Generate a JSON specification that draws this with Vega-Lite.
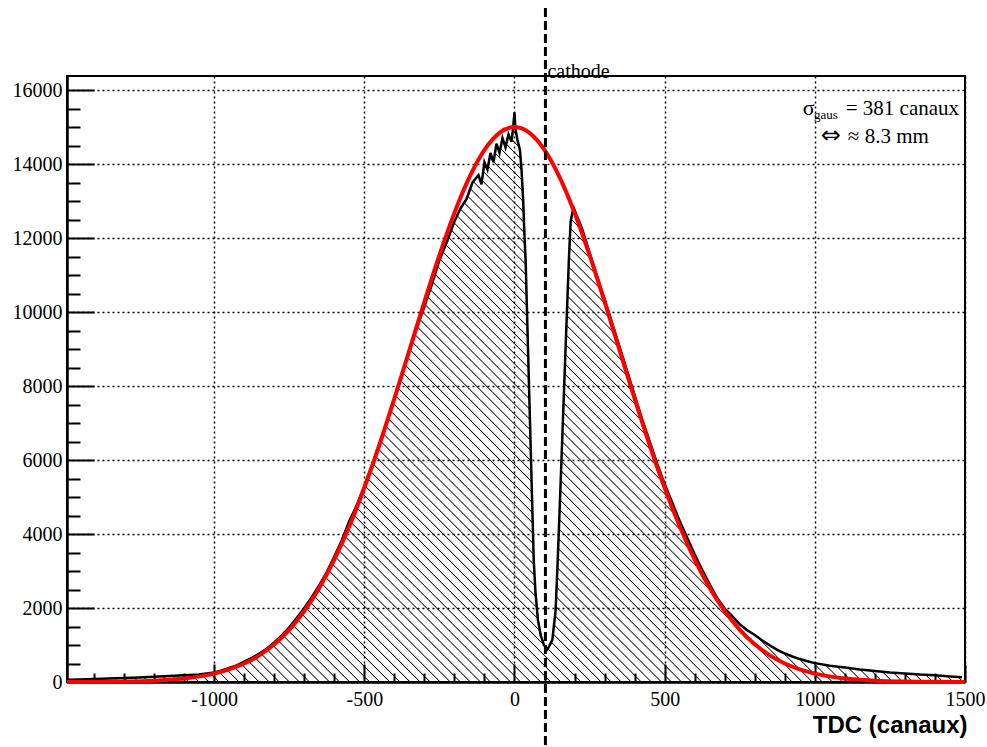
{
"$schema": "https://vega.github.io/schema/vega-lite/v6.json",
"width": 898, "height": 606,
"autosize": {"type": "none"},
"padding": {"left": 67, "top": 76, "right": 22, "bottom": 65},
"background": "white",
"config": {"view": {"stroke": "black", "strokeWidth": 2}, "font": "Liberation Serif"},
"datasets": {
"hist": [
{"x":-1490,"y":60},{"x":-1450,"y":70},{"x":-1400,"y":80},{"x":-1350,"y":95},{"x":-1300,"y":105},{"x":-1250,"y":120},{"x":-1200,"y":140},{"x":-1150,"y":160},{"x":-1100,"y":180},{"x":-1050,"y":205},{"x":-1000,"y":260},{"x":-975,"y":310},{"x":-950,"y":380},{"x":-925,"y":450},{"x":-900,"y":550},{"x":-875,"y":650},{"x":-850,"y":770},{"x":-825,"y":900},{"x":-800,"y":1070},{"x":-775,"y":1260},{"x":-750,"y":1480},{"x":-725,"y":1730},{"x":-700,"y":2000},{"x":-675,"y":2290},{"x":-650,"y":2620},{"x":-625,"y":2970},{"x":-600,"y":3390},{"x":-575,"y":3830},{"x":-550,"y":4350},{"x":-525,"y":4780},{"x":-500,"y":5300},{"x":-475,"y":5850},{"x":-450,"y":6430},{"x":-425,"y":7040},{"x":-400,"y":7650},{"x":-375,"y":8300},{"x":-350,"y":8950},{"x":-325,"y":9580},{"x":-300,"y":10150},{"x":-275,"y":10750},{"x":-250,"y":11400},{"x":-225,"y":11900},{"x":-200,"y":12450},{"x":-180,"y":12800},{"x":-160,"y":13050},{"x":-140,"y":13500},{"x":-120,"y":13700},{"x":-110,"y":13450},{"x":-100,"y":14050},{"x":-90,"y":13850},{"x":-80,"y":14300},{"x":-70,"y":14050},{"x":-60,"y":14550},{"x":-50,"y":14300},{"x":-40,"y":14700},{"x":-30,"y":14450},{"x":-20,"y":14800},{"x":-10,"y":14600},{"x":-5,"y":14950},{"x":0,"y":15400},{"x":3,"y":14950},{"x":10,"y":14650},{"x":18,"y":14380},{"x":23,"y":13900},{"x":29,"y":13000},{"x":33,"y":12100},{"x":37,"y":11400},{"x":45,"y":9000},{"x":55,"y":6000},{"x":64,"y":3300},{"x":70,"y":2400},{"x":78,"y":1680},{"x":87,"y":1270},{"x":98,"y":1000},{"x":109,"y":880},{"x":114,"y":940},{"x":126,"y":1140},{"x":137,"y":1950},{"x":144,"y":3300},{"x":150,"y":4600},{"x":160,"y":6800},{"x":170,"y":9000},{"x":181,"y":11400},{"x":187,"y":12450},{"x":193,"y":12700},{"x":198,"y":12800},{"x":205,"y":12650},{"x":225,"y":12250},{"x":250,"y":11600},{"x":275,"y":10950},{"x":300,"y":10350},{"x":325,"y":9700},{"x":350,"y":9050},{"x":375,"y":8400},{"x":400,"y":7750},{"x":425,"y":7100},{"x":450,"y":6500},{"x":475,"y":5900},{"x":500,"y":5350},{"x":525,"y":4850},{"x":550,"y":4350},{"x":575,"y":3900},{"x":600,"y":3450},{"x":625,"y":3030},{"x":650,"y":2640},{"x":675,"y":2270},{"x":700,"y":1980},{"x":725,"y":1780},{"x":750,"y":1560},{"x":775,"y":1400},{"x":800,"y":1270},{"x":825,"y":1120},{"x":850,"y":990},{"x":875,"y":870},{"x":900,"y":770},{"x":925,"y":690},{"x":950,"y":620},{"x":975,"y":560},{"x":1000,"y":510},{"x":1050,"y":440},{"x":1100,"y":390},{"x":1150,"y":340},{"x":1200,"y":300},{"x":1250,"y":260},{"x":1300,"y":230},{"x":1350,"y":200},{"x":1400,"y":180},{"x":1450,"y":150},{"x":1490,"y":130}
],
"fit": [
{"x":-1490,"y":1},{"x":-1400,"y":4},{"x":-1300,"y":12},{"x":-1200,"y":35},{"x":-1100,"y":93},{"x":-1000,"y":225},{"x":-950,"y":339},{"x":-900,"y":499},{"x":-850,"y":721},{"x":-800,"y":1019},{"x":-750,"y":1411},{"x":-700,"y":1915},{"x":-650,"y":2543},{"x":-600,"y":3306},{"x":-550,"y":4209},{"x":-500,"y":5249},{"x":-450,"y":6406},{"x":-400,"y":7659},{"x":-350,"y":8966},{"x":-300,"y":10278},{"x":-250,"y":11537},{"x":-200,"y":12681},{"x":-150,"y":13647},{"x":-100,"y":14384},{"x":-50,"y":14844},{"x":0,"y":15000},{"x":50,"y":14844},{"x":100,"y":14384},{"x":150,"y":13647},{"x":200,"y":12681},{"x":250,"y":11537},{"x":300,"y":10278},{"x":350,"y":8966},{"x":400,"y":7659},{"x":450,"y":6406},{"x":500,"y":5249},{"x":550,"y":4209},{"x":600,"y":3306},{"x":650,"y":2543},{"x":700,"y":1915},{"x":750,"y":1411},{"x":800,"y":1019},{"x":850,"y":721},{"x":900,"y":499},{"x":950,"y":339},{"x":1000,"y":225},{"x":1100,"y":93},{"x":1200,"y":35},{"x":1300,"y":12},{"x":1400,"y":4},{"x":1500,"y":1}
]
},
"layer": [
{
"data": {"name": "hist"},
"mark": {"type": "area", "interpolate": "linear", "opacity": 1,
"fill": {"gradient": "linear", "x1": 0, "y1": 1, "x2": 1, "y2": 0.364, "stops": [
{"offset":0,"color":"transparent"},{"offset":0.0009,"color":"#000"},{"offset":0.0018,"color":"transparent"},
{"offset":0.008,"color":"transparent"},{"offset":0.0089,"color":"#000"},{"offset":0.0098,"color":"transparent"},
{"offset":0.016,"color":"transparent"},{"offset":0.0169,"color":"#000"},{"offset":0.0178,"color":"transparent"},
{"offset":0.024,"color":"transparent"},{"offset":0.0249,"color":"#000"},{"offset":0.0258,"color":"transparent"},
{"offset":0.032,"color":"transparent"},{"offset":0.0329,"color":"#000"},{"offset":0.0338,"color":"transparent"},
{"offset":0.04,"color":"transparent"},{"offset":0.0409,"color":"#000"},{"offset":0.0418,"color":"transparent"},
{"offset":0.048,"color":"transparent"},{"offset":0.0489,"color":"#000"},{"offset":0.0498,"color":"transparent"},
{"offset":0.056,"color":"transparent"},{"offset":0.0569,"color":"#000"},{"offset":0.0578,"color":"transparent"},
{"offset":0.064,"color":"transparent"},{"offset":0.0649,"color":"#000"},{"offset":0.0658,"color":"transparent"},
{"offset":0.072,"color":"transparent"},{"offset":0.0729,"color":"#000"},{"offset":0.0738,"color":"transparent"},
{"offset":0.08,"color":"transparent"},{"offset":0.0809,"color":"#000"},{"offset":0.0818,"color":"transparent"},
{"offset":0.088,"color":"transparent"},{"offset":0.0889,"color":"#000"},{"offset":0.0898,"color":"transparent"},
{"offset":0.096,"color":"transparent"},{"offset":0.0969,"color":"#000"},{"offset":0.0978,"color":"transparent"},
{"offset":0.104,"color":"transparent"},{"offset":0.1049,"color":"#000"},{"offset":0.1058,"color":"transparent"},
{"offset":0.112,"color":"transparent"},{"offset":0.1129,"color":"#000"},{"offset":0.1138,"color":"transparent"},
{"offset":0.12,"color":"transparent"},{"offset":0.1209,"color":"#000"},{"offset":0.1218,"color":"transparent"},
{"offset":0.128,"color":"transparent"},{"offset":0.1289,"color":"#000"},{"offset":0.1298,"color":"transparent"},
{"offset":0.136,"color":"transparent"},{"offset":0.1369,"color":"#000"},{"offset":0.1378,"color":"transparent"},
{"offset":0.144,"color":"transparent"},{"offset":0.1449,"color":"#000"},{"offset":0.1458,"color":"transparent"},
{"offset":0.152,"color":"transparent"},{"offset":0.1529,"color":"#000"},{"offset":0.1538,"color":"transparent"},
{"offset":0.16,"color":"transparent"},{"offset":0.1609,"color":"#000"},{"offset":0.1618,"color":"transparent"},
{"offset":0.168,"color":"transparent"},{"offset":0.1689,"color":"#000"},{"offset":0.1698,"color":"transparent"},
{"offset":0.176,"color":"transparent"},{"offset":0.1769,"color":"#000"},{"offset":0.1778,"color":"transparent"},
{"offset":0.184,"color":"transparent"},{"offset":0.1849,"color":"#000"},{"offset":0.1858,"color":"transparent"},
{"offset":0.192,"color":"transparent"},{"offset":0.1929,"color":"#000"},{"offset":0.1938,"color":"transparent"},
{"offset":0.2,"color":"transparent"},{"offset":0.2009,"color":"#000"},{"offset":0.2018,"color":"transparent"},
{"offset":0.208,"color":"transparent"},{"offset":0.2089,"color":"#000"},{"offset":0.2098,"color":"transparent"},
{"offset":0.216,"color":"transparent"},{"offset":0.2169,"color":"#000"},{"offset":0.2178,"color":"transparent"},
{"offset":0.224,"color":"transparent"},{"offset":0.2249,"color":"#000"},{"offset":0.2258,"color":"transparent"},
{"offset":0.232,"color":"transparent"},{"offset":0.2329,"color":"#000"},{"offset":0.2338,"color":"transparent"},
{"offset":0.24,"color":"transparent"},{"offset":0.2409,"color":"#000"},{"offset":0.2418,"color":"transparent"},
{"offset":0.248,"color":"transparent"},{"offset":0.2489,"color":"#000"},{"offset":0.2498,"color":"transparent"},
{"offset":0.256,"color":"transparent"},{"offset":0.2569,"color":"#000"},{"offset":0.2578,"color":"transparent"},
{"offset":0.264,"color":"transparent"},{"offset":0.2649,"color":"#000"},{"offset":0.2658,"color":"transparent"},
{"offset":0.272,"color":"transparent"},{"offset":0.2729,"color":"#000"},{"offset":0.2738,"color":"transparent"},
{"offset":0.28,"color":"transparent"},{"offset":0.2809,"color":"#000"},{"offset":0.2818,"color":"transparent"},
{"offset":0.288,"color":"transparent"},{"offset":0.2889,"color":"#000"},{"offset":0.2898,"color":"transparent"},
{"offset":0.296,"color":"transparent"},{"offset":0.2969,"color":"#000"},{"offset":0.2978,"color":"transparent"},
{"offset":0.304,"color":"transparent"},{"offset":0.3049,"color":"#000"},{"offset":0.3058,"color":"transparent"},
{"offset":0.312,"color":"transparent"},{"offset":0.3129,"color":"#000"},{"offset":0.3138,"color":"transparent"},
{"offset":0.32,"color":"transparent"},{"offset":0.3209,"color":"#000"},{"offset":0.3218,"color":"transparent"},
{"offset":0.328,"color":"transparent"},{"offset":0.3289,"color":"#000"},{"offset":0.3298,"color":"transparent"},
{"offset":0.336,"color":"transparent"},{"offset":0.3369,"color":"#000"},{"offset":0.3378,"color":"transparent"},
{"offset":0.344,"color":"transparent"},{"offset":0.3449,"color":"#000"},{"offset":0.3458,"color":"transparent"},
{"offset":0.352,"color":"transparent"},{"offset":0.3529,"color":"#000"},{"offset":0.3538,"color":"transparent"},
{"offset":0.36,"color":"transparent"},{"offset":0.3609,"color":"#000"},{"offset":0.3618,"color":"transparent"},
{"offset":0.368,"color":"transparent"},{"offset":0.3689,"color":"#000"},{"offset":0.3698,"color":"transparent"},
{"offset":0.376,"color":"transparent"},{"offset":0.3769,"color":"#000"},{"offset":0.3778,"color":"transparent"},
{"offset":0.384,"color":"transparent"},{"offset":0.3849,"color":"#000"},{"offset":0.3858,"color":"transparent"},
{"offset":0.392,"color":"transparent"},{"offset":0.3929,"color":"#000"},{"offset":0.3938,"color":"transparent"},
{"offset":0.4,"color":"transparent"},{"offset":0.4009,"color":"#000"},{"offset":0.4018,"color":"transparent"},
{"offset":0.408,"color":"transparent"},{"offset":0.4089,"color":"#000"},{"offset":0.4098,"color":"transparent"},
{"offset":0.416,"color":"transparent"},{"offset":0.4169,"color":"#000"},{"offset":0.4178,"color":"transparent"},
{"offset":0.424,"color":"transparent"},{"offset":0.4249,"color":"#000"},{"offset":0.4258,"color":"transparent"},
{"offset":0.432,"color":"transparent"},{"offset":0.4329,"color":"#000"},{"offset":0.4338,"color":"transparent"},
{"offset":0.44,"color":"transparent"},{"offset":0.4409,"color":"#000"},{"offset":0.4418,"color":"transparent"},
{"offset":0.448,"color":"transparent"},{"offset":0.4489,"color":"#000"},{"offset":0.4498,"color":"transparent"},
{"offset":0.456,"color":"transparent"},{"offset":0.4569,"color":"#000"},{"offset":0.4578,"color":"transparent"},
{"offset":0.464,"color":"transparent"},{"offset":0.4649,"color":"#000"},{"offset":0.4658,"color":"transparent"},
{"offset":0.472,"color":"transparent"},{"offset":0.4729,"color":"#000"},{"offset":0.4738,"color":"transparent"},
{"offset":0.48,"color":"transparent"},{"offset":0.4809,"color":"#000"},{"offset":0.4818,"color":"transparent"},
{"offset":0.488,"color":"transparent"},{"offset":0.4889,"color":"#000"},{"offset":0.4898,"color":"transparent"},
{"offset":0.496,"color":"transparent"},{"offset":0.4969,"color":"#000"},{"offset":0.4978,"color":"transparent"},
{"offset":0.504,"color":"transparent"},{"offset":0.5049,"color":"#000"},{"offset":0.5058,"color":"transparent"},
{"offset":0.512,"color":"transparent"},{"offset":0.5129,"color":"#000"},{"offset":0.5138,"color":"transparent"},
{"offset":0.52,"color":"transparent"},{"offset":0.5209,"color":"#000"},{"offset":0.5218,"color":"transparent"},
{"offset":0.528,"color":"transparent"},{"offset":0.5289,"color":"#000"},{"offset":0.5298,"color":"transparent"},
{"offset":0.536,"color":"transparent"},{"offset":0.5369,"color":"#000"},{"offset":0.5378,"color":"transparent"},
{"offset":0.544,"color":"transparent"},{"offset":0.5449,"color":"#000"},{"offset":0.5458,"color":"transparent"},
{"offset":0.552,"color":"transparent"},{"offset":0.5529,"color":"#000"},{"offset":0.5538,"color":"transparent"},
{"offset":0.56,"color":"transparent"},{"offset":0.5609,"color":"#000"},{"offset":0.5618,"color":"transparent"},
{"offset":0.568,"color":"transparent"},{"offset":0.5689,"color":"#000"},{"offset":0.5698,"color":"transparent"},
{"offset":0.576,"color":"transparent"},{"offset":0.5769,"color":"#000"},{"offset":0.5778,"color":"transparent"},
{"offset":0.584,"color":"transparent"},{"offset":0.5849,"color":"#000"},{"offset":0.5858,"color":"transparent"},
{"offset":0.592,"color":"transparent"},{"offset":0.5929,"color":"#000"},{"offset":0.5938,"color":"transparent"},
{"offset":0.6,"color":"transparent"},{"offset":0.6009,"color":"#000"},{"offset":0.6018,"color":"transparent"},
{"offset":0.608,"color":"transparent"},{"offset":0.6089,"color":"#000"},{"offset":0.6098,"color":"transparent"},
{"offset":0.616,"color":"transparent"},{"offset":0.6169,"color":"#000"},{"offset":0.6178,"color":"transparent"},
{"offset":0.624,"color":"transparent"},{"offset":0.6249,"color":"#000"},{"offset":0.6258,"color":"transparent"},
{"offset":0.632,"color":"transparent"},{"offset":0.6329,"color":"#000"},{"offset":0.6338,"color":"transparent"},
{"offset":0.64,"color":"transparent"},{"offset":0.6409,"color":"#000"},{"offset":0.6418,"color":"transparent"},
{"offset":0.648,"color":"transparent"},{"offset":0.6489,"color":"#000"},{"offset":0.6498,"color":"transparent"},
{"offset":0.656,"color":"transparent"},{"offset":0.6569,"color":"#000"},{"offset":0.6578,"color":"transparent"},
{"offset":0.664,"color":"transparent"},{"offset":0.6649,"color":"#000"},{"offset":0.6658,"color":"transparent"},
{"offset":0.672,"color":"transparent"},{"offset":0.6729,"color":"#000"},{"offset":0.6738,"color":"transparent"},
{"offset":0.68,"color":"transparent"},{"offset":0.6809,"color":"#000"},{"offset":0.6818,"color":"transparent"},
{"offset":0.688,"color":"transparent"},{"offset":0.6889,"color":"#000"},{"offset":0.6898,"color":"transparent"},
{"offset":0.696,"color":"transparent"},{"offset":0.6969,"color":"#000"},{"offset":0.6978,"color":"transparent"},
{"offset":0.704,"color":"transparent"},{"offset":0.7049,"color":"#000"},{"offset":0.7058,"color":"transparent"},
{"offset":0.712,"color":"transparent"},{"offset":0.7129,"color":"#000"},{"offset":0.7138,"color":"transparent"},
{"offset":0.72,"color":"transparent"},{"offset":0.7209,"color":"#000"},{"offset":0.7218,"color":"transparent"},
{"offset":0.728,"color":"transparent"},{"offset":0.7289,"color":"#000"},{"offset":0.7298,"color":"transparent"},
{"offset":0.736,"color":"transparent"},{"offset":0.7369,"color":"#000"},{"offset":0.7378,"color":"transparent"},
{"offset":0.744,"color":"transparent"},{"offset":0.7449,"color":"#000"},{"offset":0.7458,"color":"transparent"},
{"offset":0.752,"color":"transparent"},{"offset":0.7529,"color":"#000"},{"offset":0.7538,"color":"transparent"},
{"offset":0.76,"color":"transparent"},{"offset":0.7609,"color":"#000"},{"offset":0.7618,"color":"transparent"},
{"offset":0.768,"color":"transparent"},{"offset":0.7689,"color":"#000"},{"offset":0.7698,"color":"transparent"},
{"offset":0.776,"color":"transparent"},{"offset":0.7769,"color":"#000"},{"offset":0.7778,"color":"transparent"},
{"offset":0.784,"color":"transparent"},{"offset":0.7849,"color":"#000"},{"offset":0.7858,"color":"transparent"},
{"offset":0.792,"color":"transparent"},{"offset":0.7929,"color":"#000"},{"offset":0.7938,"color":"transparent"},
{"offset":0.8,"color":"transparent"},{"offset":0.8009,"color":"#000"},{"offset":0.8018,"color":"transparent"},
{"offset":0.808,"color":"transparent"},{"offset":0.8089,"color":"#000"},{"offset":0.8098,"color":"transparent"},
{"offset":0.816,"color":"transparent"},{"offset":0.8169,"color":"#000"},{"offset":0.8178,"color":"transparent"},
{"offset":0.824,"color":"transparent"},{"offset":0.8249,"color":"#000"},{"offset":0.8258,"color":"transparent"},
{"offset":0.832,"color":"transparent"},{"offset":0.8329,"color":"#000"},{"offset":0.8338,"color":"transparent"},
{"offset":0.84,"color":"transparent"},{"offset":0.8409,"color":"#000"},{"offset":0.8418,"color":"transparent"},
{"offset":0.848,"color":"transparent"},{"offset":0.8489,"color":"#000"},{"offset":0.8498,"color":"transparent"},
{"offset":0.856,"color":"transparent"},{"offset":0.8569,"color":"#000"},{"offset":0.8578,"color":"transparent"},
{"offset":0.864,"color":"transparent"},{"offset":0.8649,"color":"#000"},{"offset":0.8658,"color":"transparent"},
{"offset":0.872,"color":"transparent"},{"offset":0.8729,"color":"#000"},{"offset":0.8738,"color":"transparent"},
{"offset":0.88,"color":"transparent"},{"offset":0.8809,"color":"#000"},{"offset":0.8818,"color":"transparent"},
{"offset":0.888,"color":"transparent"},{"offset":0.8889,"color":"#000"},{"offset":0.8898,"color":"transparent"},
{"offset":0.896,"color":"transparent"},{"offset":0.8969,"color":"#000"},{"offset":0.8978,"color":"transparent"},
{"offset":0.904,"color":"transparent"},{"offset":0.9049,"color":"#000"},{"offset":0.9058,"color":"transparent"},
{"offset":0.912,"color":"transparent"},{"offset":0.9129,"color":"#000"},{"offset":0.9138,"color":"transparent"},
{"offset":0.92,"color":"transparent"},{"offset":0.9209,"color":"#000"},{"offset":0.9218,"color":"transparent"},
{"offset":0.928,"color":"transparent"},{"offset":0.9289,"color":"#000"},{"offset":0.9298,"color":"transparent"},
{"offset":0.936,"color":"transparent"},{"offset":0.9369,"color":"#000"},{"offset":0.9378,"color":"transparent"},
{"offset":0.944,"color":"transparent"},{"offset":0.9449,"color":"#000"},{"offset":0.9458,"color":"transparent"},
{"offset":0.952,"color":"transparent"},{"offset":0.9529,"color":"#000"},{"offset":0.9538,"color":"transparent"},
{"offset":0.96,"color":"transparent"},{"offset":0.9609,"color":"#000"},{"offset":0.9618,"color":"transparent"},
{"offset":0.968,"color":"transparent"},{"offset":0.9689,"color":"#000"},{"offset":0.9698,"color":"transparent"},
{"offset":0.976,"color":"transparent"},{"offset":0.9769,"color":"#000"},{"offset":0.9778,"color":"transparent"},
{"offset":0.984,"color":"transparent"},{"offset":0.9849,"color":"#000"},{"offset":0.9858,"color":"transparent"},
{"offset":0.992,"color":"transparent"},{"offset":0.9929,"color":"#000"},{"offset":0.9938,"color":"transparent"},
{"offset":1,"color":"transparent"}
]}},
"encoding": {
"x": {"field": "x", "type": "quantitative",
"scale": {"domain": [-1490, 1500], "nice": false, "zero": false},
"axis": {
"values": [-1400,-1300,-1200,-1100,-1000,-900,-800,-700,-600,-500,-400,-300,-200,-100,0,100,200,300,400,500,600,700,800,900,1000,1100,1200,1300,1400,1500],
"tickCount": 1000,
"domainColor": "black", "domainWidth": 2.5,
"tickColor": "black", "tickWidth": 2,
"tickSize": {"condition": {"test": "datum.value % 500 === 0", "value": -18}, "value": -9},
"grid": true, "gridColor": "black", "gridDash": [2, 3], "gridWidth": 1.5,
"gridOpacity": {"condition": {"test": "datum.value % 500 === 0", "value": 1}, "value": 0},
"labelExpr": "datum.value % 500 === 0 ? '' + datum.value : ''",
"labelFont": "Liberation Serif", "labelFontSize": 20, "labelColor": "black",
"labelPadding": 25, "labelFlush": false, "labelOverlap": false, "labelBound": false,
"title": "TDC (canaux)", "titleFont": "Liberation Sans", "titleFontWeight": "bold", "titleFontSize": 24, "titleColor": "black",
"titleAnchor": "end", "titleAlign": "right", "titleBaseline": "alphabetic", "titleX": 900, "titleY": 50
}},
"y": {"field": "y", "type": "quantitative",
"scale": {"domain": [0, 16380], "nice": false},
"axis": {
"values": [0,500,1000,1500,2000,2500,3000,3500,4000,4500,5000,5500,6000,6500,7000,7500,8000,8500,9000,9500,10000,10500,11000,11500,12000,12500,13000,13500,14000,14500,15000,15500,16000],
"tickCount": 1000,
"domainColor": "black", "domainWidth": 2.5,
"tickColor": "black", "tickWidth": 2,
"tickSize": {"condition": {"test": "datum.value % 2000 === 0", "value": -27}, "value": -13},
"grid": true, "gridColor": "black", "gridDash": [2, 3], "gridWidth": 1.5,
"gridOpacity": {"condition": {"test": "datum.value % 2000 === 0", "value": 1}, "value": 0},
"labelExpr": "datum.value % 2000 === 0 ? '' + datum.value : ''",
"labelFont": "Liberation Serif", "labelFontSize": 20, "labelColor": "black",
"labelPadding": 32, "labelFlush": false, "labelOverlap": false, "labelBound": false,
"title": null
}}
}
},
{
"data": {"name": "hist"},
"mark": {"type": "line", "interpolate": "linear", "color": "black", "strokeWidth": 2.5},
"encoding": {"x": {"field": "x", "type": "quantitative"}, "y": {"field": "y", "type": "quantitative"}}
},
{
"data": {"name": "fit"},
"mark": {"type": "line", "interpolate": "monotone", "color": "#ff0000", "strokeWidth": 4},
"encoding": {"x": {"field": "x", "type": "quantitative"}, "y": {"field": "y", "type": "quantitative"}}
},
{
"data": {"values": [{}]},
"mark": {"type": "rule", "color": "black", "strokeWidth": 3, "strokeDash": [9, 4], "clip": false},
"encoding": {"x": {"datum": 103}, "y": {"datum": 18216}, "y2": {"datum": -1757}}
},
{
"data": {"values": [{}]},
"mark": {"type": "text", "text": "cathode", "font": "Liberation Serif", "fontSize": 20, "color": "black", "align": "left", "baseline": "alphabetic", "dx": 2},
"encoding": {"x": {"datum": 103}, "y": {"datum": 16324}}
},
{
"data": {"values": [{}]},
"mark": {"type": "text", "text": "σ", "font": "Liberation Serif", "fontSize": 22, "color": "black", "align": "left", "baseline": "alphabetic"},
"encoding": {"x": {"datum": 960}, "y": {"datum": 15324}}
},
{
"data": {"values": [{}]},
"mark": {"type": "text", "text": "gaus", "font": "Liberation Serif", "fontSize": 13, "color": "black", "align": "left", "baseline": "alphabetic"},
"encoding": {"x": {"datum": 997}, "y": {"datum": 15216}}
},
{
"data": {"values": [{}]},
"mark": {"type": "text", "text": "= 381 canaux", "font": "Liberation Serif", "fontSize": 21, "color": "black", "align": "left", "baseline": "alphabetic"},
"encoding": {"x": {"datum": 1103}, "y": {"datum": 15324}}
},
{
"data": {"values": [{}]},
"mark": {"type": "text", "text": "⇔", "font": "DejaVu Sans", "fontSize": 24, "color": "black", "align": "left", "baseline": "alphabetic"},
"encoding": {"x": {"datum": 1020}, "y": {"datum": 14568}}
},
{
"data": {"values": [{}]},
"mark": {"type": "text", "text": "≈ 8.3 mm", "font": "Liberation Serif", "fontSize": 21, "color": "black", "align": "left", "baseline": "alphabetic"},
"encoding": {"x": {"datum": 1110}, "y": {"datum": 14568}}
}
]
}
